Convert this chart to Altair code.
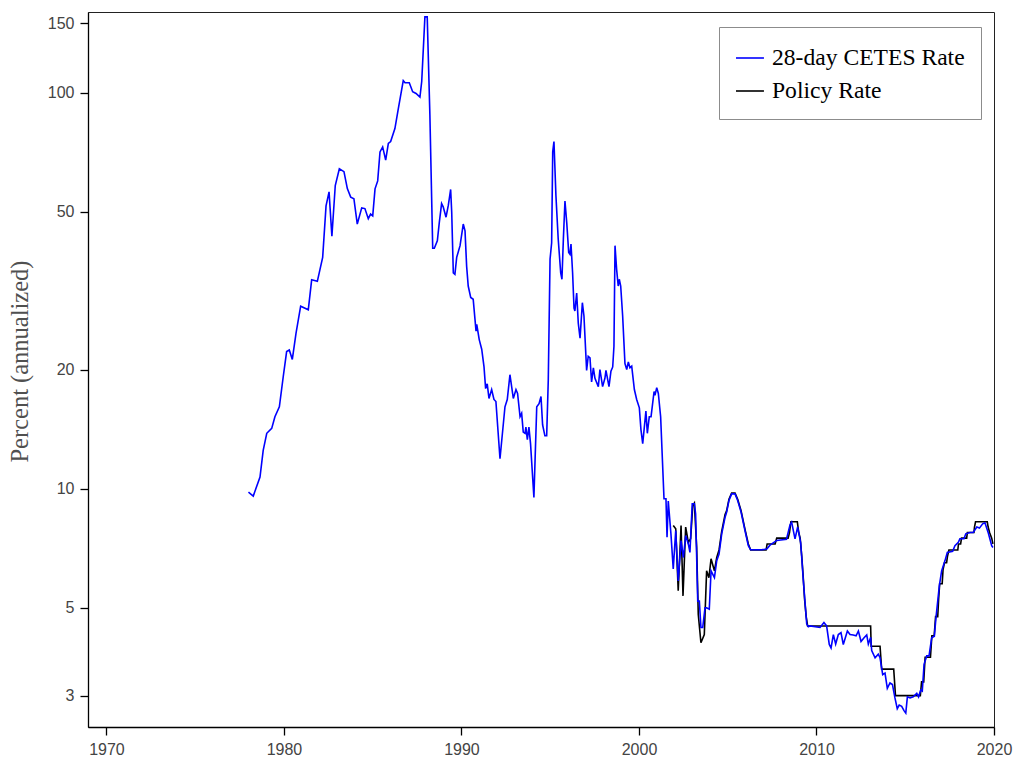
import altair as alt
import pandas as pd

# 28-day CETES rate (annualized, percent), by decimal year
cetes_year = [
    1978.00, 1978.27, 1978.65, 1978.83, 1979.03, 1979.31, 1979.49, 1979.74, 1979.96, 1980.15,
    1980.30, 1980.47, 1980.68, 1980.94, 1981.37, 1981.56, 1981.88, 1982.03, 1982.18, 1982.37,
    1982.54, 1982.70, 1982.89, 1983.12, 1983.38, 1983.57, 1983.76, 1983.94, 1984.13, 1984.38,
    1984.56, 1984.75, 1984.88, 1985.00, 1985.13, 1985.28, 1985.41, 1985.56, 1985.73, 1985.88,
    1986.01, 1986.25, 1986.44, 1986.72, 1986.82, 1987.06, 1987.25, 1987.44, 1987.66, 1987.76,
    1987.94, 1988.07, 1988.22, 1988.38, 1988.47, 1988.64, 1988.75, 1988.88, 1988.97, 1989.13,
    1989.26, 1989.39, 1989.45, 1989.54, 1989.63, 1989.73, 1989.92, 1990.10, 1990.20, 1990.29,
    1990.38, 1990.52, 1990.66, 1990.76, 1990.82, 1990.86, 1991.00, 1991.14, 1991.27, 1991.36,
    1991.45, 1991.55, 1991.70, 1991.83, 1991.94, 1992.17, 1992.45, 1992.58, 1992.73, 1992.92,
    1993.07, 1993.16, 1993.30, 1993.39, 1993.48, 1993.58, 1993.63, 1993.71, 1993.80, 1993.89,
    1994.08, 1994.24, 1994.37, 1994.48, 1994.57, 1994.70, 1994.80, 1994.89, 1994.99, 1995.08,
    1995.14, 1995.21, 1995.32, 1995.45, 1995.59, 1995.66, 1995.74, 1995.83, 1995.93, 1996.04,
    1996.11, 1996.17, 1996.26, 1996.34, 1996.39, 1996.49, 1996.58, 1996.68, 1996.81, 1996.90,
    1997.05, 1997.14, 1997.24, 1997.33, 1997.43, 1997.52, 1997.71, 1997.80, 1997.95, 1998.08,
    1998.14, 1998.31, 1998.42, 1998.52, 1998.59, 1998.65, 1998.74, 1998.83, 1998.89, 1998.97,
    1999.08, 1999.21, 1999.31, 1999.40, 1999.49, 1999.59, 1999.74, 1999.87, 2000.02, 2000.11,
    2000.21, 2000.39, 2000.47, 2000.58, 2000.68, 2000.85, 2000.90, 2001.00, 2001.09, 2001.22,
    2001.41, 2001.52, 2001.58, 2001.65, 2001.80, 2001.93, 2002.07, 2002.21, 2002.37, 2002.50,
    2002.63, 2002.78, 2002.87, 2003.00, 2003.12, 2003.19, 2003.31, 2003.40, 2003.49, 2003.59,
    2003.72, 2003.81, 2003.96, 2004.06, 2004.25, 2004.38, 2004.51, 2004.66, 2004.85, 2004.94,
    2005.07, 2005.22, 2005.41, 2005.56, 2005.75, 2005.97, 2006.16, 2006.29, 2006.54, 2006.91,
    2007.20, 2007.38, 2007.76, 2008.31, 2008.51, 2008.60, 2008.79, 2008.94, 2009.11, 2009.26,
    2009.45, 2009.54, 2009.63, 2010.20, 2010.42, 2010.57, 2010.72, 2010.82, 2010.95, 2011.08,
    2011.23, 2011.38, 2011.51, 2011.74, 2011.89, 2012.07, 2012.23, 2012.36, 2012.51, 2012.68,
    2012.83, 2012.92, 2013.05, 2013.11, 2013.30, 2013.48, 2013.58, 2013.73, 2013.86, 2013.99,
    2014.14, 2014.28, 2014.42, 2014.55, 2014.66, 2014.80, 2014.93, 2015.03, 2015.12, 2015.27,
    2015.45, 2015.65, 2015.75, 2015.87, 2015.96, 2016.06, 2016.21, 2016.34, 2016.49, 2016.64,
    2016.73, 2016.92, 2017.05, 2017.24, 2017.37, 2017.67, 2017.80, 2017.99, 2018.08, 2018.31,
    2018.41, 2018.65, 2018.83, 2019.03, 2019.18, 2019.36, 2019.49, 2019.68, 2019.87, 2019.94,
]
cetes_rate = [
    9.8, 9.58, 10.7, 12.5, 13.8, 14.2, 15.2, 16.1, 19.2, 22.2,
    22.4, 21.2, 24.7, 28.9, 28.3, 33.7, 33.4, 35.8, 38.4, 51.8,
    56.2, 43.4, 58.3, 64.3, 63.2, 57.3, 54.5, 54.0, 46.6, 51.2,
    51.0, 48.1, 49.4, 48.9, 57.2, 59.9, 70.9, 73.0, 67.6, 74.5,
    75.3, 81.2, 91.1, 107.4, 106.0, 106.0, 100.6, 99.6, 97.5, 106.8,
    155.5, 155.5, 88.0, 40.5, 40.5, 42.3, 47.0, 52.5, 51.5, 48.5,
    52.0, 57.0, 49.9, 35.1, 34.8, 38.4, 41.1, 46.6, 44.8, 36.5,
    32.5, 30.4, 30.1, 26.8, 25.0, 26.0, 23.8, 22.5, 20.3, 17.9,
    18.4, 16.9, 17.8, 16.8, 16.6, 11.9, 16.1, 16.8, 19.4, 16.9,
    17.8, 17.4, 15.2, 15.5, 13.9, 13.8, 14.3, 13.3, 14.3, 13.0,
    9.5, 16.1, 16.4, 17.1, 14.5, 13.6, 13.6, 18.8, 38.0, 41.8,
    70.9, 75.3, 55.1, 42.7, 35.1, 33.8, 42.7, 53.3, 47.0, 39.5,
    39.1, 41.5, 35.1, 28.6, 28.1, 31.2, 26.2, 24.0, 29.5, 27.3,
    19.9, 21.6, 21.4, 18.6, 20.2, 19.0, 18.1, 20.0, 18.1, 19.0,
    19.9, 18.1, 19.8, 20.3, 22.9, 41.1, 35.8, 32.5, 33.8, 32.5,
    27.3, 20.7, 20.0, 20.9, 20.2, 20.4, 17.8, 16.8, 16.0, 14.1,
    13.0, 15.7, 13.8, 15.2, 15.2, 17.6, 17.2, 18.0, 17.4, 15.2,
    9.43, 9.43, 7.54, 9.3, 7.69, 6.27, 7.84, 5.85, 7.39, 6.7,
    7.61, 7.25, 6.9, 9.16, 9.16, 8.64, 5.2, 5.2, 4.46, 4.46,
    5.0, 5.0, 4.96, 6.2, 5.96, 6.58, 6.84, 7.69, 8.47, 8.73,
    9.34, 9.7, 9.7, 9.34, 8.73, 7.84, 7.18, 7.01, 7.01, 7.01,
    7.04, 7.2, 7.4, 7.45, 8.1, 8.23, 7.47, 8.0, 7.3, 5.85,
    4.55, 4.48, 4.5, 4.46, 4.59, 4.5, 4.04, 3.96, 4.28, 4.05,
    4.28, 4.33, 4.04, 4.37, 4.28, 4.27, 4.25, 4.37, 4.11, 4.2,
    4.27, 4.05, 4.21, 3.9, 3.74, 3.82, 3.74, 3.39, 3.42, 3.13,
    3.23, 3.2, 2.96, 2.78, 2.84, 2.82, 2.75, 2.71, 2.98, 2.96,
    2.98, 3.04, 2.98, 3.1, 3.08, 3.6, 3.78, 3.78, 4.2, 4.24,
    4.72, 5.68, 6.2, 6.58, 6.9, 6.95, 7.18, 7.32, 7.47, 7.47,
    7.69, 7.75, 7.75, 8.0, 7.95, 8.15, 8.2, 7.73, 7.18, 7.1,
]

# Policy (overnight interbank target) rate, percent
policy_year = [
    2001.93, 2002.07, 2002.21, 2002.37, 2002.48, 2002.63, 2002.78, 2002.91, 2003.03, 2003.12,
    2003.25, 2003.34, 2003.49, 2003.68, 2003.81, 2003.94, 2004.06, 2004.25, 2004.38, 2004.51,
    2004.66, 2004.85, 2004.94, 2005.07, 2005.22, 2005.41, 2005.56, 2005.75, 2005.97, 2006.16,
    2006.29, 2007.16, 2007.22, 2007.67, 2007.76, 2008.40, 2008.48, 2008.56, 2008.92, 2009.00,
    2009.08, 2009.17, 2009.25, 2009.33, 2009.42, 2009.50, 2013.05, 2013.08, 2013.58, 2013.67,
    2014.35, 2014.45, 2015.85, 2015.92, 2016.04, 2016.12, 2016.42, 2016.50, 2016.63, 2016.71,
    2016.83, 2016.88, 2016.94, 2017.08, 2017.13, 2017.21, 2017.33, 2017.38, 2017.46, 2017.96,
    2018.00, 2018.12, 2018.17, 2018.46, 2018.50, 2018.87, 2018.90, 2018.96, 2019.62, 2019.67,
    2019.75, 2019.87, 2019.94,
]
policy_rate = [
    8.07, 7.92, 5.52, 8.07, 5.36, 8.0, 7.32, 7.47, 9.07, 9.2,
    7.1, 4.81, 4.08, 4.28, 6.2, 5.96, 6.65, 6.2, 6.7, 7.0,
    7.8, 8.6, 8.8, 9.4, 9.75, 9.75, 9.4, 8.8, 7.9, 7.25,
    7.0, 7.0, 7.25, 7.25, 7.5, 7.5, 7.75, 8.25, 8.25, 7.75,
    7.5, 6.75, 6.0, 5.25, 4.75, 4.5, 4.5, 4.0, 4.0, 3.5,
    3.5, 3.0, 3.0, 3.25, 3.25, 3.75, 3.75, 4.25, 4.25, 4.75,
    4.75, 5.25, 5.75, 5.75, 6.25, 6.5, 6.5, 6.75, 7.0, 7.0,
    7.25, 7.25, 7.5, 7.5, 7.75, 7.75, 8.0, 8.25, 8.25, 8.0,
    7.75, 7.5, 7.25,
]

series_names = ["28-day CETES Rate", "Policy Rate"]
series_colors = ["#0000ff", "#000000"]
x_ticks = [1970, 1980, 1990, 2000, 2010, 2020]
y_ticks = [3, 5, 10, 20, 50, 100, 150]

cetes_df = pd.DataFrame({"year": cetes_year, "rate": cetes_rate, "series": series_names[0]})
policy_df = pd.DataFrame({"year": policy_year, "rate": policy_rate, "series": series_names[1]})

x_enc = alt.X(
    "year:Q",
    scale=alt.Scale(domain=[1968.96, 2020], nice=False, zero=False),
    axis=alt.Axis(values=x_ticks, format="d", title=None, labelFlush=False, labelPadding=6),
)
y_enc = alt.Y(
    "rate:Q",
    scale=alt.Scale(type="log", domain=[2.5, 160], nice=False),
    axis=alt.Axis(
        values=y_ticks, format="d", title="Percent (annualized)", labelFlush=False,
        labelPadding=6, titleX=-56, titleY=349,
    ),
)
color_enc = alt.Color(
    "series:N",
    scale=alt.Scale(domain=series_names, range=series_colors),
    legend=alt.Legend(
        title=None, orient="none", legendX=631, legendY=15,
        symbolType="stroke", symbolSize=784, symbolStrokeWidth=1.6,
        labelFont="Liberation Serif", labelFontSize=23.6, labelColor="#000",
        labelOffset=7, rowPadding=6, padding=16,
        strokeColor="#8c8c8c", fillColor="#ffffff", labelLimit=400,
    ),
)

# policy rate drawn first so the CETES line sits on top where they coincide
policy_line = alt.Chart(policy_df).mark_line(strokeWidth=1.6).encode(x=x_enc, y=y_enc, color=color_enc)
cetes_line = alt.Chart(cetes_df).mark_line(strokeWidth=1.6).encode(x=x_enc, y=y_enc, color=color_enc)

chart = (
    alt.layer(policy_line, cetes_line)
    .properties(
        width=906, height=715,
        autosize=alt.AutoSizeParams(type="none"),
        padding={"left": 88, "top": 12, "right": 21, "bottom": 34},
        background="#ffffff",
    )
    .configure_view(stroke="#222222", strokeWidth=1)
    .configure_axis(
        grid=False, domainColor="#000000", domainWidth=1.3,
        tickColor="#000000", tickWidth=1.3, tickSize=8,
        labelFont="Liberation Sans", labelFontSize=16, labelColor="#444444",
        titleFont="Liberation Serif", titleFontSize=24.5, titleFontWeight="normal",
        titleColor="#505050",
    )
)

chart.save("out.html", embed_options={"renderer": "svg", "actions": False})
